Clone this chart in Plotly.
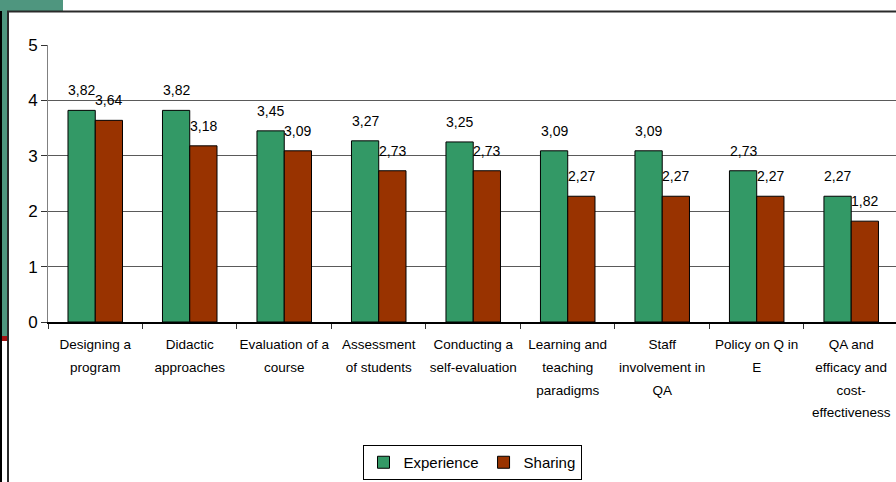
import plotly.graph_objects as go

# Survey averages per topic
categories = [
    "Designing a<br>program",
    "Didactic<br>approaches",
    "Evaluation of a<br>course",
    "Assessment<br>of students",
    "Conducting a<br>self-evaluation",
    "Learning and<br>teaching<br>paradigms",
    "Staff<br>involvement in<br>QA",
    "Policy on Q in<br>E",
    "QA and<br>efficacy and<br>cost-<br>effectiveness",
]
experience = [3.82, 3.82, 3.45, 3.27, 3.25, 3.09, 3.09, 2.73, 2.27]
sharing = [3.64, 3.18, 3.09, 2.73, 2.73, 2.27, 2.27, 2.27, 1.82]
y_ticks = [0, 1, 2, 3, 4, 5]

FONT = "Liberation Sans, Arial, sans-serif"
GREEN = "#339966"
RED = "#993300"
TEAL = "#4F967F"

W, H = 896, 482
ML, MR, MT, MB = 48, 0, 45, 160
PW, PH = W - ML - MR, H - MT - MB


def px(x):
    return (x - ML) / PW


def py(y):
    return (H - MB - y) / PH


def fmt(v):
    return f"{v:.2f}".replace(".", ",")


# category labels: glyphs at 13.5px, lines spaced by the larger tick font
tick_text = [
    "<br>".join(f'<span style="font-size:13.5px">{part}</span>' for part in c.split("<br>"))
    for c in categories
]

fig = go.Figure()
fig.add_trace(go.Bar(
    name="Experience", x=categories, y=experience,
    marker=dict(color=GREEN, line=dict(color="black", width=1)),
))
fig.add_trace(go.Bar(
    name="Sharing", x=categories, y=sharing,
    marker=dict(color=RED, line=dict(color="black", width=1)),
))

# value labels above each bar
bar_half = 13.6
annotations = []
for series, shift in ((experience, -bar_half), (sharing, bar_half)):
    for c, v in zip(categories, series):
        annotations.append(dict(
            x=c, y=v, xref="x", yref="y", text=fmt(v), showarrow=False,
            xshift=shift, yshift=20, yanchor="middle", xanchor="center",
            font=dict(family=FONT, size=14, color="black"),
        ))

# slide decoration around the chart
shapes = [
    dict(type="rect", xref="paper", yref="paper", x0=px(0), x1=px(2), y0=py(0), y1=py(H),
         fillcolor="black", line=dict(width=0), layer="above"),
    dict(type="rect", xref="paper", yref="paper", x0=px(2), x1=px(7), y0=py(0), y1=py(337),
         fillcolor=TEAL, line=dict(width=0), layer="above"),
    dict(type="rect", xref="paper", yref="paper", x0=px(0), x1=px(63), y0=py(0), y1=py(11),
         fillcolor=TEAL, line=dict(width=0), layer="above"),
    dict(type="rect", xref="paper", yref="paper", x0=px(2), x1=px(8), y0=py(336), y1=py(341),
         fillcolor="#A01010", line=dict(width=0), layer="above"),
    dict(type="rect", xref="paper", yref="paper", x0=px(8), x1=px(W + 10), y0=py(11.5), y1=py(H + 10),
         fillcolor="rgba(0,0,0,0)", line=dict(color="#2a2a2a", width=2), layer="above"),
]

fig.update_layout(
    width=W, height=H,
    margin=dict(l=ML, r=MR, t=MT, b=MB, autoexpand=False),
    paper_bgcolor="white", plot_bgcolor="white",
    barmode="group", bargap=0.423, bargroupgap=0,
    font=dict(family=FONT, size=14, color="black"),
    annotations=annotations,
    shapes=shapes,
    legend=dict(
        orientation="h", x=0.5, xanchor="center", y=py(445), yanchor="top",
        bordercolor="black", borderwidth=1, bgcolor="white",
        font=dict(family=FONT, size=15, color="black"),
        itemwidth=30, tracegroupgap=0,
    ),
    xaxis=dict(
        type="category", range=[-0.5, 8.474],
        tickvals=categories, ticktext=tick_text,
        showline=True, linecolor="black", linewidth=2,
        ticks="outside", tickson="boundaries", ticklen=5, tickcolor="#333",
        tickangle=0, automargin=False, ticklabelstandoff=4,
        tickfont=dict(family=FONT, size=17.5, color="black"),
        showgrid=False, fixedrange=True,
    ),
    yaxis=dict(
        range=[0, 5], tickvals=y_ticks,
        showline=True, linecolor="#808080", linewidth=1,
        ticks="outside", ticklen=6, tickcolor="#333",
        showgrid=True, gridcolor="#5a5a5a", gridwidth=1,
        zeroline=False, automargin=False,
        tickfont=dict(family=FONT, size=17, color="black"),
    ),
)

fig.write_html("out.html")
